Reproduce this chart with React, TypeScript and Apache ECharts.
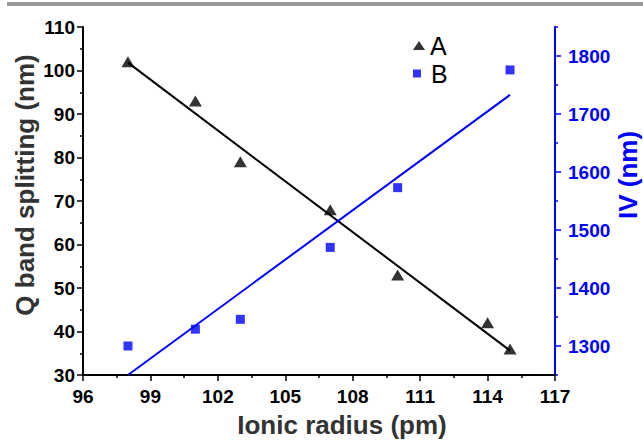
import React, { useEffect, useRef } from "react";
import * as echarts from "echarts";

const FONT = "'Liberation Sans', Arial, Helvetica, sans-serif";
const BLUE = "#0000FF";

// Series A: Q band splitting (nm) vs ionic radius (pm)
const radiusA = [98, 101, 103, 107, 110, 114, 115];
const splitA = [102, 93, 79, 68, 53, 42, 36];
// Series B: IV (nm) vs ionic radius (pm)
const radiusB = [98, 101, 103, 107, 110, 115];
const ivB = [1300, 1329, 1346, 1470, 1573, 1776];
// Linear fits (end points)
const fitAx = [98, 115];
const fitAy = [101.8, 35.6];
const fitBx = [98, 115];
const fitBy = [1250, 1733];
// Right axis ticks
const IV_MAJOR = [1300, 1400, 1500, 1600, 1700, 1800];
const IV_MINOR = [1250, 1350, 1450, 1550, 1650, 1750, 1850];

const zip = (xs: number[], ys: number[]) => xs.map((x, i) => [x, ys[i]]);

export default function App() {
  const ref = useRef<HTMLDivElement>(null);
  useEffect(() => {
    if (!ref.current) return;
    const chart = echarts.init(ref.current, undefined, { renderer: "svg" });
    const labelStyle = { fontFamily: FONT, fontWeight: "bold" as const, fontSize: 19 };
    const plain = (v: number) => String(v);
    chart.setOption({
      animation: false,
      backgroundColor: "#fff",
      grid: { left: 83, right: 88, top: 27, bottom: 65, containLabel: false },
      xAxis: {
        type: "value",
        min: 96,
        max: 117,
        interval: 3,
        axisLine: { show: true, onZero: false, lineStyle: { color: "#000", width: 2 } },
        axisTick: { show: true, length: 6, lineStyle: { color: "#000", width: 1.5 } },
        minorTick: { show: true, splitNumber: 2, length: 3, lineStyle: { color: "#000", width: 1.5 } },
        axisLabel: { ...labelStyle, color: "#000", margin: 12, formatter: plain },
        splitLine: { show: false },
      },
      yAxis: [
        {
          type: "value",
          position: "left",
          min: 30,
          max: 110,
          interval: 10,
          axisLine: { show: true, onZero: false, lineStyle: { color: "#000", width: 2 } },
          axisTick: { show: true, length: 6, lineStyle: { color: "#000", width: 1.5 } },
          minorTick: { show: true, splitNumber: 2, length: 3, lineStyle: { color: "#000", width: 1.5 } },
          axisLabel: { ...labelStyle, color: "#000", margin: 8, formatter: plain },
          splitLine: { show: false },
        },
        {
          type: "value",
          position: "right",
          min: 1250,
          max: 1850,
          axisLine: { show: true, onZero: false, lineStyle: { color: BLUE, width: 2 } },
          axisTick: { show: true, length: 6, customValues: IV_MAJOR, lineStyle: { color: BLUE, width: 1.5 } },
          axisLabel: { ...labelStyle, color: BLUE, margin: 13, customValues: IV_MAJOR, formatter: plain },
          splitLine: { show: false },
        },
        {
          type: "value",
          position: "right",
          min: 1250,
          max: 1850,
          axisLine: { show: false },
          axisTick: { show: true, length: 3, customValues: IV_MINOR, lineStyle: { color: BLUE, width: 1.5 } },
          axisLabel: { show: false },
          splitLine: { show: false },
        },
      ],
      legend: [
        {
          data: [{ name: "A", icon: "triangle" }],
          left: 413,
          top: 33,
          padding: 0,
          itemWidth: 12,
          itemHeight: 9,
          selectedMode: false,
          textStyle: { fontFamily: FONT, fontSize: 25, color: "#000", lineHeight: 24 },
        },
        {
          data: [{ name: "B", icon: "rect" }],
          left: 413,
          top: 61,
          padding: 0,
          itemWidth: 8,
          itemHeight: 8,
          selectedMode: false,
          textStyle: { fontFamily: FONT, fontSize: 25, color: "#000", lineHeight: 24, padding: [0, 0, 0, 5] },
        },
      ],
      series: [
        {
          name: "fitA",
          type: "line",
          yAxisIndex: 0,
          data: zip(fitAx, fitAy),
          showSymbol: false,
          symbol: "none",
          lineStyle: { color: "#000", width: 2 },
          z: 2,
        },
        {
          name: "fitB",
          type: "line",
          yAxisIndex: 1,
          data: zip(fitBx, fitBy),
          showSymbol: false,
          symbol: "none",
          lineStyle: { color: BLUE, width: 2 },
          z: 2,
        },
        {
          name: "A",
          type: "scatter",
          yAxisIndex: 0,
          data: zip(radiusA, splitA),
          symbol: "triangle",
          symbolSize: [13, 11],
          itemStyle: { color: "#000" },
          z: 3,
        },
        {
          name: "B",
          type: "scatter",
          yAxisIndex: 1,
          data: zip(radiusB, ivB),
          symbol: "rect",
          symbolSize: 9,
          itemStyle: { color: BLUE },
          z: 3,
        },
      ],
      graphic: [
        { type: "rect", shape: { x: 7, y: 2, width: 636, height: 4 }, style: { fill: "#9a9a9a" }, silent: true },
        {
          type: "text",
          x: 342,
          y: 425,
          style: { text: "Ionic radius (pm)", fill: "#333", font: `bold 26px ${FONT}`, align: "center", verticalAlign: "middle" },
        },
        {
          type: "text",
          x: 25,
          y: 185,
          rotation: Math.PI / 2,
          style: { text: "Q band splitting (nm)", fill: "#333", font: `bold 26px ${FONT}`, align: "center", verticalAlign: "middle" },
        },
        {
          type: "text",
          x: 628,
          y: 175,
          rotation: Math.PI / 2,
          style: { text: "IV (nm)", fill: BLUE, font: `bold 26px ${FONT}`, align: "center", verticalAlign: "middle" },
        },
      ],
    });
    return () => chart.dispose();
  }, []);
  return (
    <div
      ref={ref}
      style={{ position: "absolute", left: 0, top: 0, width: 643, height: 440 }}
    />
  );
}
